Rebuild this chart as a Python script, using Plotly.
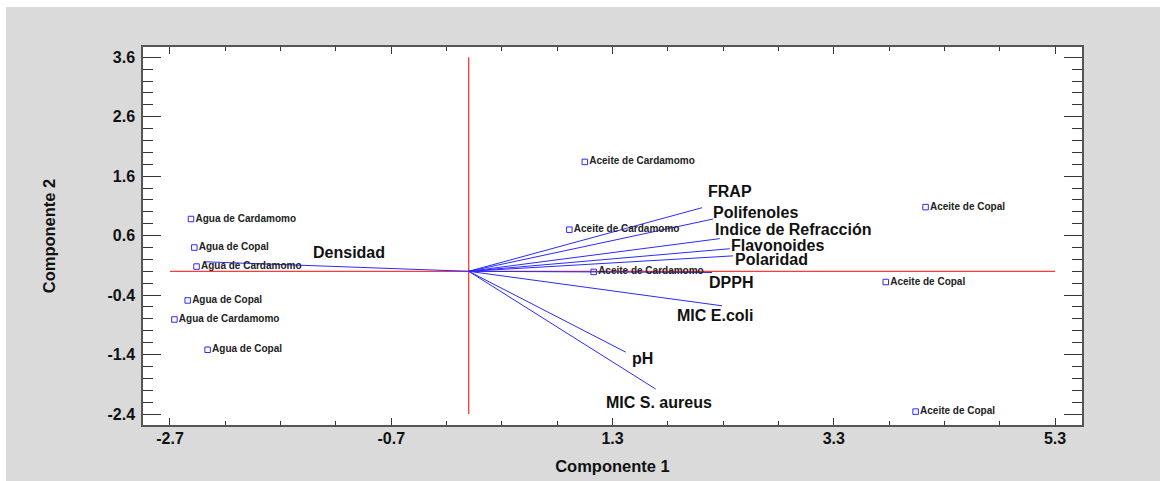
import plotly.graph_objects as go

# ---- data ----
sample_names = [
    "Agua de Cardamomo", "Agua de Copal", "Agua de Cardamomo",
    "Agua de Copal", "Agua de Cardamomo", "Agua de Copal",
    "Aceite de Cardamomo", "Aceite de Cardamomo", "Aceite de Cardamomo",
    "Aceite de Copal", "Aceite de Copal", "Aceite de Copal",
]
sample_pc1 = [-2.51, -2.48, -2.46, -2.54, -2.66, -2.36, 1.05, 0.91, 1.13, 4.13, 3.77, 4.04]
sample_pc2 = [0.88, 0.40, 0.08, -0.49, -0.81, -1.32, 1.84, 0.70, -0.01, 1.08, -0.18, -2.36]

variables = ["FRAP", "Polifenoles", "Indice de Refracción", "Flavonoides", "Polaridad",
             "DPPH", "MIC E.coli", "pH", "MIC S. aureus", "Densidad"]
load_pc1 = [2.11, 2.21, 2.27, 2.36, 2.39, 2.20, 2.29, 1.42, 1.69, -2.38]
load_pc2 = [1.07, 0.88, 0.55, 0.38, 0.26, -0.02, -0.58, -1.36, -1.98, 0.16]

x_ticks = [-2.7, -0.7, 1.3, 3.3, 5.3]
y_ticks = [3.6, 2.6, 1.6, 0.6, -0.4, -1.4, -2.4]

# label offsets in pixels (left edge of label relative to vector tip; +dy = up)
label_shift = {
    "FRAP": (4, 16), "Polifenoles": (-2, 7), "Indice de Refracción": (-7, 9),
    "Flavonoides": (-1, 3), "Polaridad": (0, -4), "DPPH": (-5, -10),
    "MIC E.coli": (-47, -10), "pH": (4, -6), "MIC S. aureus": (-52, -13),
    "Densidad": (106, 9),
}

FONT = "Liberation Sans, Arial, sans-serif"
BLUE = "#2a2aff"
RED = "#ff3a3a"

fig = go.Figure()

# reference axes (red)
fig.add_trace(go.Scatter(
    x=[min(x_ticks), max(x_ticks), None, 0, 0],
    y=[0, 0, None, min(y_ticks), max(y_ticks)],
    mode="lines", line=dict(color=RED, width=1.3),
    hoverinfo="skip", showlegend=False))

# loading vectors
vx, vy = [], []
for a, b in zip(load_pc1, load_pc2):
    vx += [0, a, None]
    vy += [0, b, None]
fig.add_trace(go.Scatter(
    x=vx, y=vy, mode="lines", line=dict(color=BLUE, width=1),
    hoverinfo="skip", showlegend=False))

# samples
fig.add_trace(go.Scatter(
    x=sample_pc1, y=sample_pc2, mode="markers+text",
    text=sample_names, textposition="middle right",
    marker=dict(symbol="square-open", size=5.5, color=BLUE, line=dict(width=1, color=BLUE)),
    textfont=dict(family=FONT, size=10, color="#222222", weight="bold"),
    showlegend=False))

annotations = []
for name, a, b in zip(variables, load_pc1, load_pc2):
    dx, dy = label_shift[name]
    annotations.append(dict(
        x=a, y=b, xref="x", yref="y", text=name, showarrow=False,
        xanchor="left", yanchor="middle", xshift=dx, yshift=dy,
        font=dict(family=FONT, size=16, color="#111111", weight="bold")))

L, R, T, B = 143, 78, 47, 56
W, H = 1160, 481
pw, ph = W - L - R, H - T - B

shapes = [
    # white strips around the gray frame
    dict(type="rect", xref="paper", yref="paper",
         x0=-L / pw, x1=(6 - L) / pw, y0=-B / ph, y1=1 + T / ph,
         fillcolor="white", line=dict(width=0), layer="below"),
    dict(type="rect", xref="paper", yref="paper",
         x0=-L / pw, x1=1 + R / pw, y0=1 + (T - 7) / ph, y1=1 + T / ph,
         fillcolor="white", line=dict(width=0), layer="below"),
]

axis_common = dict(
    automargin=False,
    showgrid=False, zeroline=False, showline=True, linecolor="#555555", linewidth=1.5,
    mirror="ticks", ticks="inside", tickcolor="#333333", tickwidth=1.2,
    tickfont=dict(family=FONT, size=16, color="#111111", weight="bold"),
)

fig.update_layout(
    width=W, height=H,
    margin=dict(l=L, r=R, t=T, b=B),
    paper_bgcolor="#dadada", plot_bgcolor="white",
    shapes=shapes, annotations=annotations,
    xaxis=dict(
        **axis_common, range=[-2.944, 5.544],
        tickmode="array", tickvals=x_ticks, ticktext=[f"{v:g}" for v in x_ticks],
        ticklen=7, ticklabelstandoff=-2,
        minor=dict(dtick=0.5, tick0=-2.7, ticks="inside", ticklen=4, tickcolor="#333333", tickwidth=1.2),
        title=dict(text="Componente 1", standoff=14,
                   font=dict(family=FONT, size=16.5, color="#111111", weight="bold")),
    ),
    yaxis=dict(
        **axis_common, range=[-2.585, 3.773],
        tickmode="array", tickvals=y_ticks, ticktext=[f"{v:g}" for v in y_ticks],
        ticklen=18, ticklabelstandoff=3,
        minor=dict(dtick=0.2, tick0=-2.4, ticks="inside", ticklen=10, tickcolor="#333333", tickwidth=1.2),
        title=dict(text="Componente 2", standoff=48,
                   font=dict(family=FONT, size=16.5, color="#111111", weight="bold")),
    ),
)

fig.write_html("out.html")
